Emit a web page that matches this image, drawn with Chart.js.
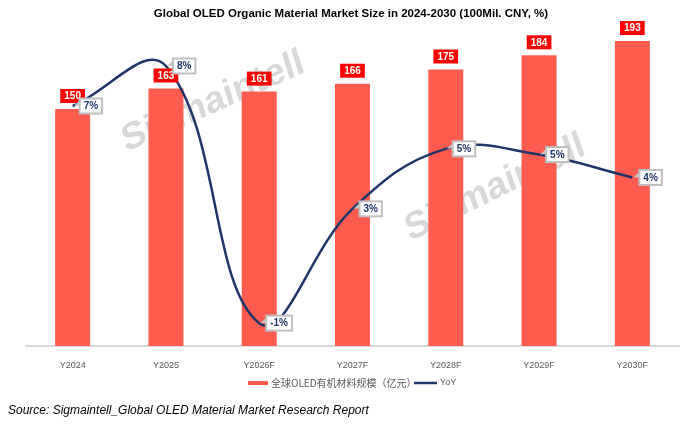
<!DOCTYPE html>
<html lang="en">
<head>
<meta charset="UTF-8">
<title>Global OLED Organic Material Market Size</title>
<script src="https://cdn.jsdelivr.net/npm/chart.js@4.4.0/dist/chart.umd.min.js"></script>
<style>
    html, body { margin: 0; padding: 0; background: #fff; }
    #wrap { width: 685px; height: 428px; position: relative; }
</style>
</head>
<body>
<div id="wrap"><canvas id="oledChart"></canvas></div>
<script>
    // chart data
    const years = ["Y2024", "Y2025", "Y2026F", "Y2027F", "Y2028F", "Y2029F", "Y2030F"];
    const marketSize = [150, 163, 161, 166, 175, 184, 193];
    const yoy = [6.6, 8.0, -1.0, 3.0, 5.1, 4.9, 4.1];
    const yoyLabels = ["7%", "8%", "-1%", "3%", "5%", "5%", "4%"];

    const titleText = "Global OLED Organic Material Market Size in 2024-2030 (100Mil. CNY, %)";
    const sourceText = "Source: Sigmaintell_Global OLED Material Market Research Report";
    const legendBar = "全球OLED有机材料规模（亿元）";
    const legendLine = "YoY";

    const BAR_COLOR = "#FF5B4F";
    const LINE_COLOR = "#1F3468";
    const FONT = "'Liberation Sans Narrow', 'Liberation Sans', Arial, sans-serif";

    // watermark behind the bars
    const watermark = {
        id: "watermark",
        beforeDatasetsDraw(chart) {
            const ctx = chart.ctx;
            ctx.save();
            ctx.fillStyle = "rgba(190,190,190,0.6)";
            ctx.font = "bold 37px " + FONT;
            ctx.textAlign = "center";
            ctx.textBaseline = "middle";
            [[213, 102, -0.42], [495, 188, -0.46]].forEach(w => {
                ctx.save();
                ctx.translate(w[0], w[1]);
                ctx.rotate(w[2]);
                ctx.transform(1, 0, -0.12, 1, 0, 0);
                ctx.fillText("Sigmaintell", 0, 0);
                ctx.restore();
            });
            ctx.restore();
        }
    };

    // value labels, title, legend, source
    const extras = {
        id: "extras",
        afterDatasetsDraw(chart) {
            const ctx = chart.ctx;
            ctx.save();
            ctx.textAlign = "center";
            ctx.textBaseline = "middle";

            // bar labels (red boxes)
            ctx.font = "bold 10px " + FONT;
            chart.getDatasetMeta(0).data.forEach((bar, i) => {
                const txt = String(marketSize[i]);
                const w = ctx.measureText(txt).width + 8;
                const h = 14;
                const cy = bar.y - 6 - h / 2;
                ctx.fillStyle = "#FF0000";
                ctx.fillRect(bar.x - w / 2, cy - h / 2, w, h);
                ctx.fillStyle = "#fff";
                ctx.fillText(txt, bar.x, cy + 0.5);
            });

            // line labels (callouts)
            ctx.font = "bold 10px " + FONT;
            chart.getDatasetMeta(1).data.forEach((pt, i) => {
                const txt = yoyLabels[i];
                const w = ctx.measureText(txt).width + 8;
                const h = 15;
                const left = pt.x + 7;
                const top = pt.y - h / 2;
                ctx.beginPath();
                ctx.moveTo(left, top + 2);
                ctx.lineTo(pt.x + 1, pt.y);
                ctx.lineTo(left, top + 7);
                ctx.closePath();
                ctx.fillStyle = "#C8C8C8";
                ctx.fill();
                ctx.fillStyle = "#fff";
                ctx.strokeStyle = "#BFBFBF";
                ctx.lineWidth = 2;
                ctx.fillRect(left, top, w, h);
                ctx.strokeRect(left, top, w, h);
                ctx.fillStyle = LINE_COLOR;
                ctx.fillText(txt, left + w / 2, pt.y + 0.5);
            });

            // title
            ctx.fillStyle = "#000";
            ctx.font = "bold 11.5px " + FONT;
            ctx.fillText(titleText, 351, 14);

            // legend
            ctx.fillStyle = BAR_COLOR;
            ctx.fillRect(248, 381, 20, 4);
            ctx.textAlign = "left";
            ctx.fillStyle = "#595959";
            ctx.font = "10px 'Noto Sans CJK SC', sans-serif";
            ctx.fillText(legendBar, 271, 383);
            ctx.strokeStyle = LINE_COLOR;
            ctx.lineWidth = 2.5;
            ctx.beginPath();
            ctx.moveTo(414, 383);
            ctx.lineTo(437, 383);
            ctx.stroke();
            ctx.font = "9px " + FONT;
            ctx.fillText(legendLine, 440, 383);

            // source
            ctx.fillStyle = "#000";
            ctx.font = "italic 12px " + FONT;
            ctx.fillText(sourceText, 8, 411);
            ctx.restore();
        }
    };

    new Chart(document.getElementById("oledChart"), {
        data: {
            labels: years,
            datasets: [
                {
                    type: "bar",
                    label: legendBar,
                    data: marketSize,
                    backgroundColor: BAR_COLOR,
                    barPercentage: 0.375,
                    categoryPercentage: 1,
                    yAxisID: "y",
                    order: 2
                },
                {
                    type: "line",
                    label: legendLine,
                    data: yoy,
                    borderColor: LINE_COLOR,
                    borderWidth: 2.5,
                    tension: 0.4,
                    pointRadius: 0,
                    yAxisID: "y2",
                    order: 1
                }
            ]
        },
        options: {
            responsive: true,
            maintainAspectRatio: false,
            animation: false,
            layout: { padding: { top: 30, left: 26, right: 6, bottom: 0 } },
            plugins: {
                legend: { display: false },
                title: { display: false },
                tooltip: { enabled: false }
            },
            scales: {
                x: {
                    grid: { display: false },
                    border: { display: true, color: "#D9D9D9", width: 2 },
                    ticks: { color: "#595959", font: { size: 9, family: FONT }, padding: 6 },
                    afterFit(scale) { scale.height = 82; }
                },
                y: { display: false, min: 0, max: 200 },
                y2: { display: false, min: -1.8, max: 9.26 }
            }
        },
        plugins: [watermark, extras]
    });
</script>
</body>
</html>
